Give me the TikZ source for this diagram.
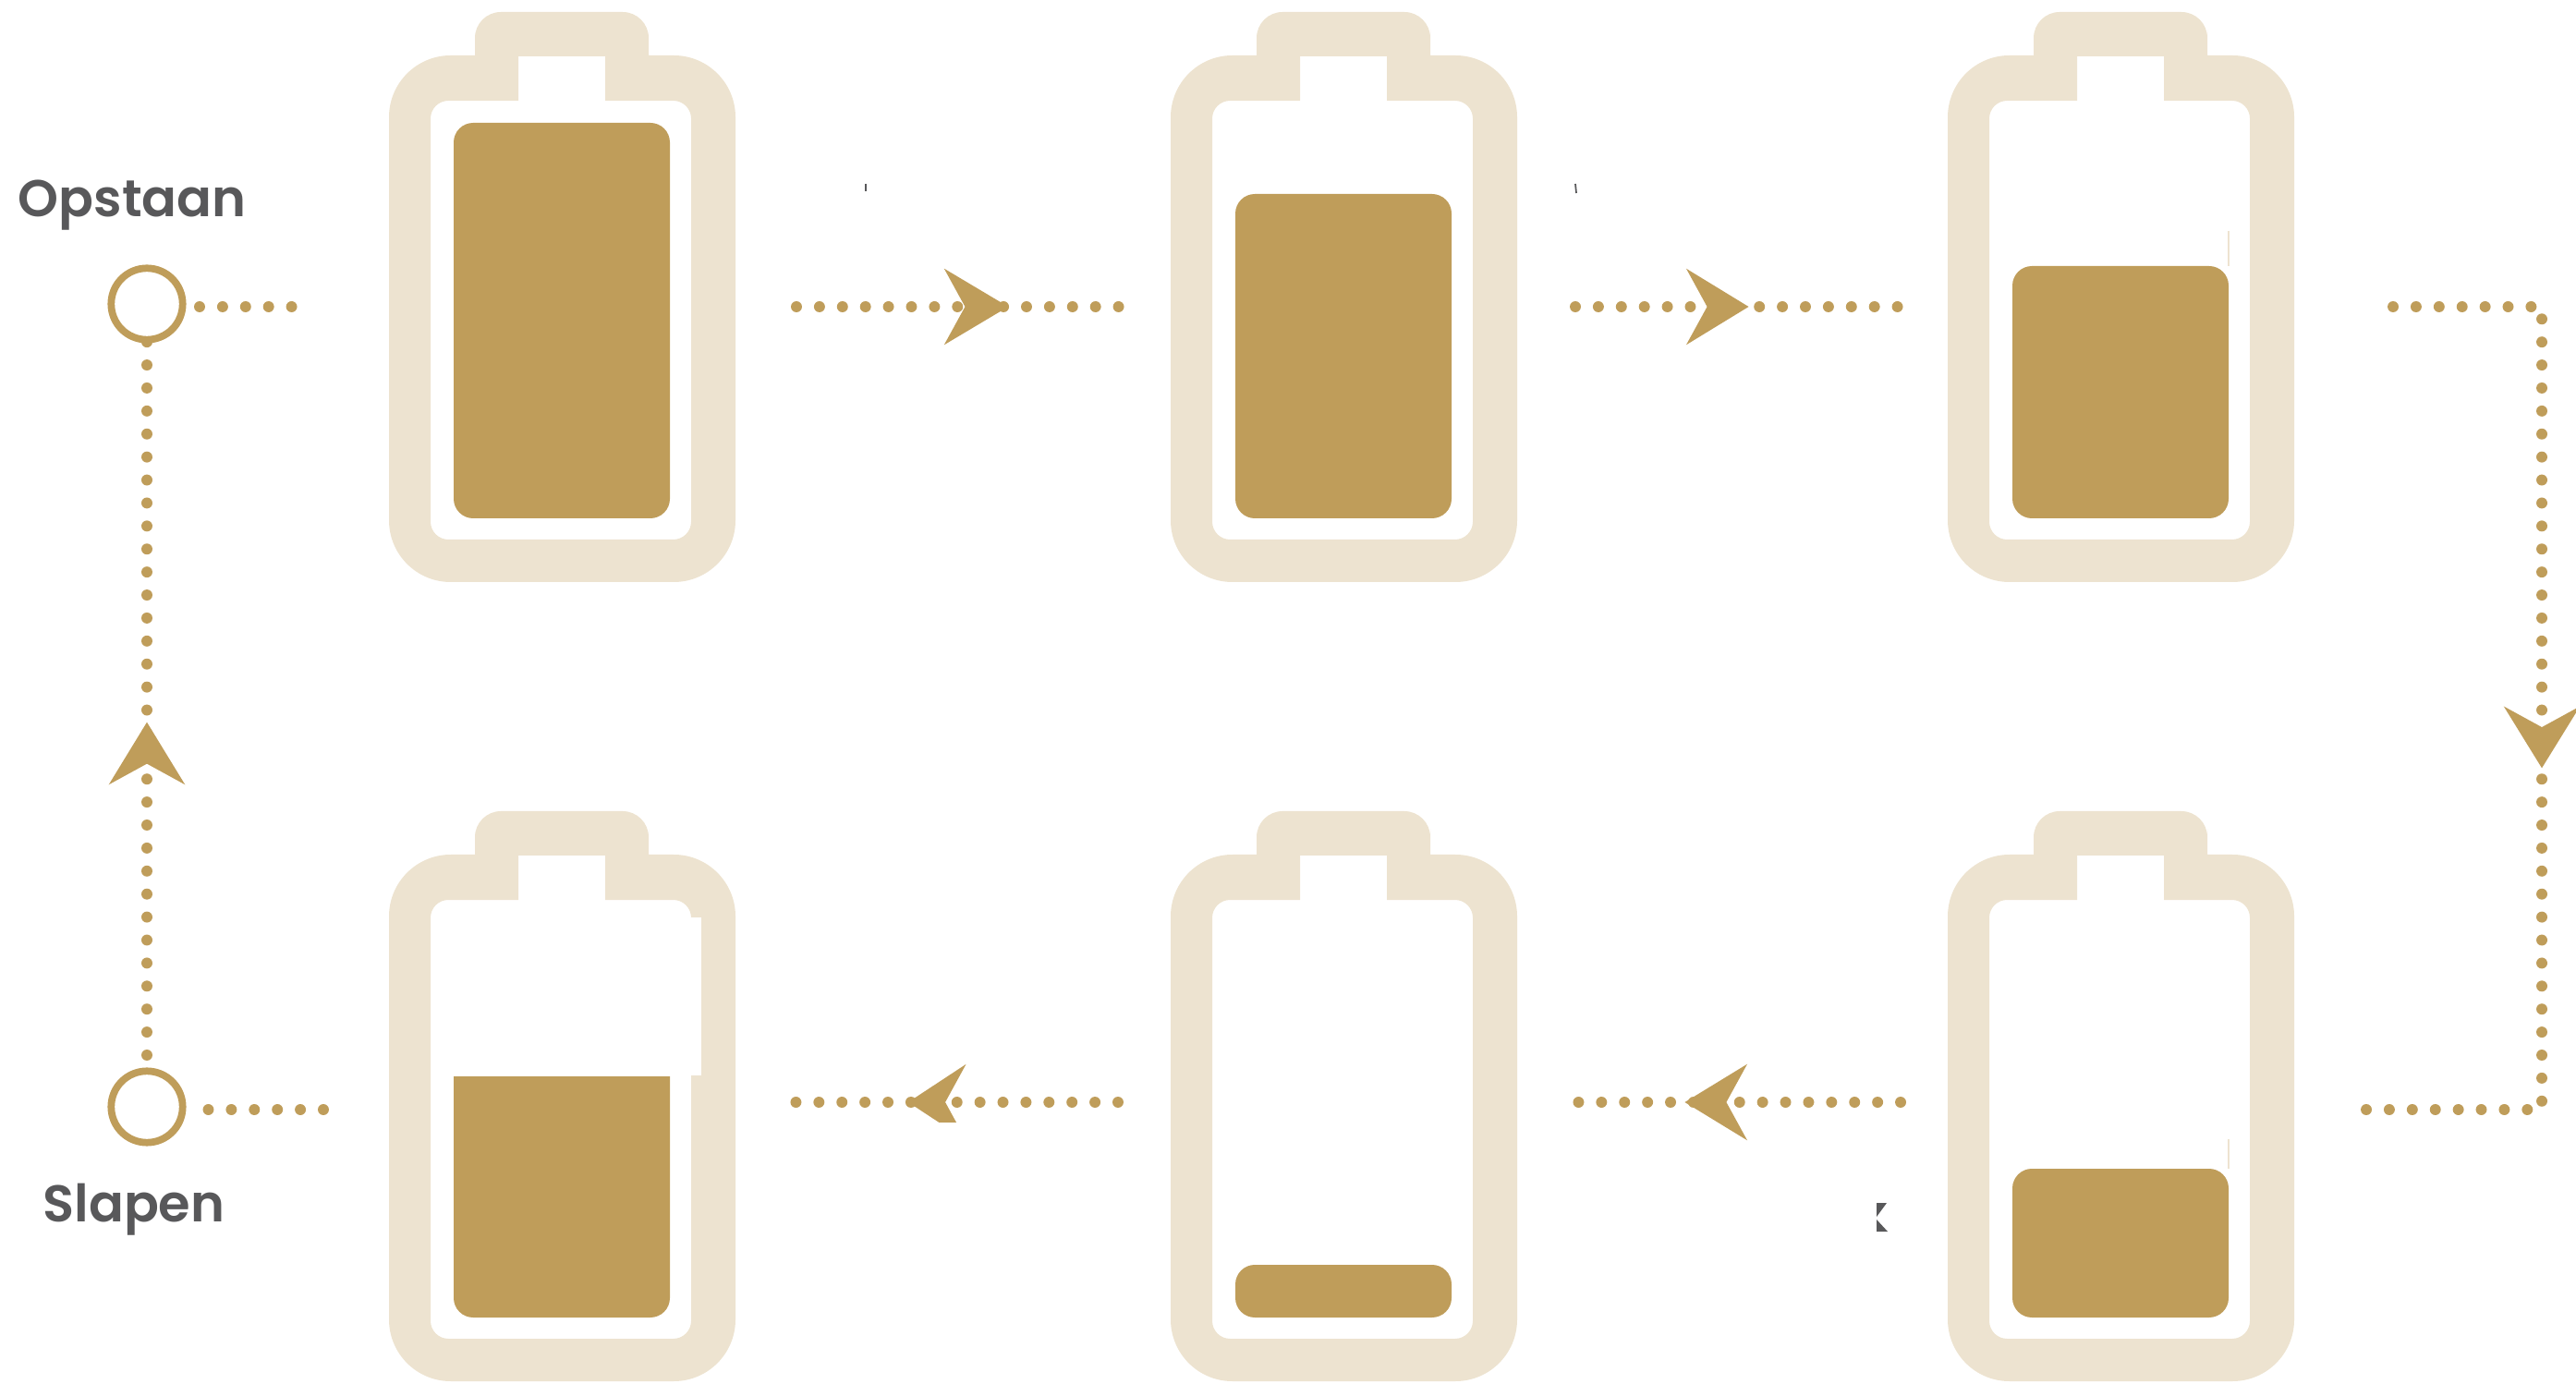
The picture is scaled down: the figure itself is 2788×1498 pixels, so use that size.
\documentclass[tikz,border=0pt]{standalone}
\usepackage{fontspec}
\setmainfont{Poppins}[BoldFont={* SemiBold}]
\usepackage{xcolor}
\usetikzlibrary{arrows.meta,calc,positioning,decorations.markings}
\definecolor{shell}{HTML}{EDE3D0}
\definecolor{gold}{HTML}{BF9D5A}
\definecolor{labelgrey}{HTML}{58585A}
\tikzset{
  battery/.pic={
    \fill[shell,even odd rule]
      (93,47) [rounded corners=8pt] -- (93,0) -- (281,0) -- (281,47) [sharp corners] -- (281,47)
      [rounded corners=19pt] -- (375,47) -- (375,617) -- (0,617) -- (0,47) -- (93,47)
      [sharp corners] (140,48) -- (234,48) -- (234,96) [rounded corners=5.5pt] -- (327,96) -- (327,571) -- (45,571) -- (45,96) [sharp corners] -- (140,96) -- cycle;
  },
  charge/.style={fill=gold,rounded corners=6pt},
  place/.style={circle,draw=gold,line width=2.2pt,fill=white,minimum size=22pt,inner sep=0pt},
  lbl/.style={text=labelgrey,font=\bfseries\fontsize{15.9pt}{18pt}\selectfont,inner sep=0pt},
  dots/.style={draw=gold,line width=3.4pt,line cap=round,dash pattern=on 0pt off 7.08pt},
  flow/.style 2 args={postaction={decorate},decoration={markings,mark=at position #1 with {\arrow[gold]{Stealth[length=#2,width=23pt,inset=6.2pt]}}}},
  thinmark/.style={draw=shell,line width=.4pt}
}
\begin{document}
\begin{tikzpicture}[x=.01cm,y=-.01cm]
\useasboundingbox (0,0) rectangle (2788,1498);
% batteries
\pic (batA) at (421,13) {battery};
\pic (batB) at (1267,13) {battery};
\pic (batC) at (2108,13) {battery};
\pic (batD) at (421,878) {battery};
\pic (batE) at (1267,878) {battery};
\pic (batF) at (2108,878) {battery};
\fill[white] (745,993) rectangle (759,1164);
% charge levels
\fill[charge] (491,133) rectangle (725,561);
\fill[charge] (1337,210) rectangle (1571,561);
\fill[charge] (2178,288) rectangle (2412,561);
\fill[fill=gold] (491,1165) -- (725,1165) [rounded corners=6pt] -- (725,1426) -- (491,1426) -- (491,1300) [sharp corners] -- (491,1165) -- cycle;
\fill[charge] (1337,1369) rectangle (1571,1426);
\fill[charge] (2178,1265) rectangle (2412,1426);
\draw[thinmark] (2412,250) -- (2412,288);
\draw[thinmark] (2412,1233) -- (2412,1265);
% start and end
\node[place] (wake) at (159,329) {};
\node[place] (sleep) at (159,1198) {};
\node[lbl,above=27pt of wake.center,xshift=-4.5pt,anchor=base] (wakelabel) {Opstaan};
\node[lbl,below=35.5pt of sleep.center,xshift=-4pt,anchor=base] (sleeplabel) {Slapen};
% connector ends
\coordinate (wakeout) at (316,332);
\coordinate (wakein) at (216,332);
\coordinate (a1) at (862,332);
\coordinate (a2) at (1212,332);
\coordinate (b1) at (1705,332);
\coordinate (b2) at (2059,332);
\coordinate (c1) at (2590,332);
\coordinate (c2) at (2751,1201);
\coordinate (c3) at (2558,1201);
\coordinate (d1) at (2057,1193);
\coordinate (d2) at (1703,1193);
\coordinate (e1) at (1210,1193);
\coordinate (e2) at (858,1193);
\coordinate (sleepin) at (350,1201);
\coordinate (sleepout) at (223,1201);
\coordinate (sleepup) at (159,1142);
\coordinate (wakedown) at (159,367);
% dotted connectors
\draw[dots] (wakein) -- (wakeout);
\draw[dots,flow={.655}{19.5pt}] (a1) -- (a2);
\draw[dots,flow={.53}{19pt}] (b1) -- (b2);
\draw[dots,flow={.54}{18.8pt}] (c1) -| (c2) -- (c3);
\draw[dots,flow={.66}{19pt}] (d1) -- (d2);
\draw[dots,flow={.645}{17.6pt}] (e1) -- (e2);
\draw[dots] (sleepin) -- (sleepout);
\draw[dots,flow={.465}{19pt}] (sleepup) -- (wakedown);
\fill[white] (985,1215) rectangle (1060,1250);
% loose marks
\fill[labelgrey] (2031,1302) -- (2042,1302) -- (2031,1317) -- cycle;
\fill[labelgrey] (2031,1320) -- (2043,1333) -- (2031,1333) -- cycle;
\draw[labelgrey,line width=.4pt] (937,199) -- (937,207);
\draw[labelgrey,line width=.5pt] (1705,199) -- (1706,209);
\end{tikzpicture}
\end{document}
